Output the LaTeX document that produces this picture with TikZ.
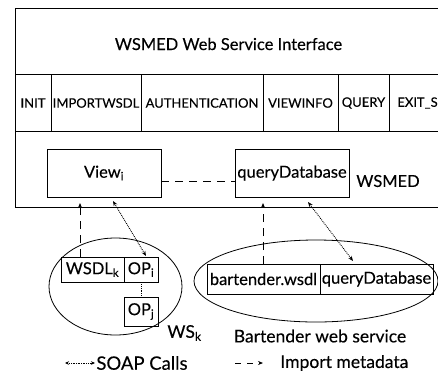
\documentclass[tikz,border=0pt]{standalone}
\usepackage{fontspec}
\setmainfont{Lato}[FakeBold=0.25]
\usetikzlibrary{arrows.meta,calc,shapes.geometric}
\begin{document}
\begin{tikzpicture}[x=1pt,y=-1pt,
  line width=0.8pt,
  box/.style={draw,rectangle,inner sep=0pt},
  lbl/.style={inner sep=0pt,font=\fontsize{16.5}{18}\selectfont},
  rowlbl/.style={inner sep=0pt,font=\fontsize{13}{15}\selectfont},
  bigl/.style={inner sep=0pt,font=\fontsize{17.5}{20}\selectfont},
  imp/.style={dashed,dash pattern=on 8pt off 6pt,-{Stealth[length=5pt,width=4pt]}},
  soap/.style={densely dotted,line width=0.9pt,{Stealth[length=5pt,width=4pt]}-{Stealth[length=5pt,width=4pt]}}
]
\useasboundingbox (0,0) rectangle (438,375);
% outer frame
\node[box,minimum width=430,minimum height=66,anchor=north west] (hdr) at (15,8) {};
\node[lbl] (hdrtxt) at (228.5,44) {WSMED Web Service Interface};
\node[box,minimum width=430,minimum height=57,anchor=north west] (row) at (15,74) {};
\node[box,minimum width=430,minimum height=76,anchor=north west] (low) at (15,131) {};
% separators
\foreach \x/\n in {51/a,141/b,263/c,338/d,389/e}{
  \coordinate (s\n t) at (\x,74);
  \coordinate (s\n b) at (\x,131);
  \draw (s\n t) -- (s\n b);
}
\node[rowlbl] (init) at (33,103) {INIT};
\node[rowlbl] (imp) at (96,103) {IMPORTWSDL};
\node[rowlbl] (auth) at (202,103) {AUTHENTICATION};
\node[rowlbl] (vinfo) at (300.5,103) {VIEWINFO};
\node[rowlbl] (query) at (363.5,103) {QUERY};
\node[rowlbl,anchor=west] (exits) at (397,103) {EXIT\_S};
% WSMED boxes
\node[box,lbl,minimum width=114,minimum height=48] (view) at (104,173) {View\textsubscript{i}};
\node[box,lbl,minimum width=114,minimum height=48] (qdb) at (292,173) {queryDatabase};
\node[lbl] (wsmed) at (388,181) {WSMED};
\draw[dashed,dash pattern=on 8pt off 6pt] (view.east |- 0,181) coordinate (vd) -- (qdb.west |- 0,181) coordinate (qd);
% left web service
\node[draw,ellipse,minimum width=133,minimum height=97,inner sep=0pt] (ws) at (115.5,286.5) {};
\node[box,lbl,minimum width=63,minimum height=25] (wsdl) at (92.5,269.5) {WSDL\textsubscript{k}};
\node[box,lbl,minimum width=34,minimum height=25] (opi) at (141,269.5) {OP\textsubscript{i}};
\node[box,lbl,minimum width=34,minimum height=29] (opj) at (141,311.5) {OP\textsubscript{j}};
\draw[densely dotted] (opi.south) -- (opj.north);
\node[bigl,anchor=west] (wsk) at (167,333) {WS\textsubscript{k}};
\coordinate (a1s) at (80,257);
\coordinate (a1e) at (80,203);
\draw[imp] (a1s) -- (a1e);
\coordinate (d1s) at (113,201);
\coordinate (d1e) at (146,256);
\draw[soap] (d1s) -- (d1e);
% right web service
\node[draw,ellipse,minimum width=244,minimum height=82,inner sep=0pt] (bws) at (316,281) {};
\node[box,lbl,minimum width=113,minimum height=30] (bw) at (263.5,279) {bartender.wsdl};
\node[box,lbl,minimum width=113,minimum height=30] (bq) at (376.5,279) {queryDatabase};
\node[bigl] (bart) at (320,336) {Bartender web service};
\coordinate (a2s) at (263,264);
\coordinate (a2e) at (263,203);
\draw[imp] (a2s) -- (a2e);
\coordinate (d2s) at (308,202);
\coordinate (d2e) at (353,261);
\draw[soap] (d2s) -- (d2e);
% legend
\coordinate (l1s) at (65,363);
\coordinate (l1e) at (95,363);
\draw[soap,line width=0.7pt,{Stealth[length=4pt,width=3.5pt]}-{Stealth[length=4pt,width=3.5pt]}] (l1s) -- (l1e);
\node[bigl,anchor=west,font=\fontsize{18.5}{21}\selectfont] (soapt) at (96,363) {SOAP Calls};
\coordinate (l2s) at (235,363);
\coordinate (l2e) at (263,363);
\draw[dashed,dash pattern=on 6pt off 6pt,-{Stealth[length=5pt,width=4pt]}] (l2s) -- (l2e);
\node[bigl,anchor=west] (impt) at (280,363) {Import metadata};
\end{tikzpicture}
\end{document}
